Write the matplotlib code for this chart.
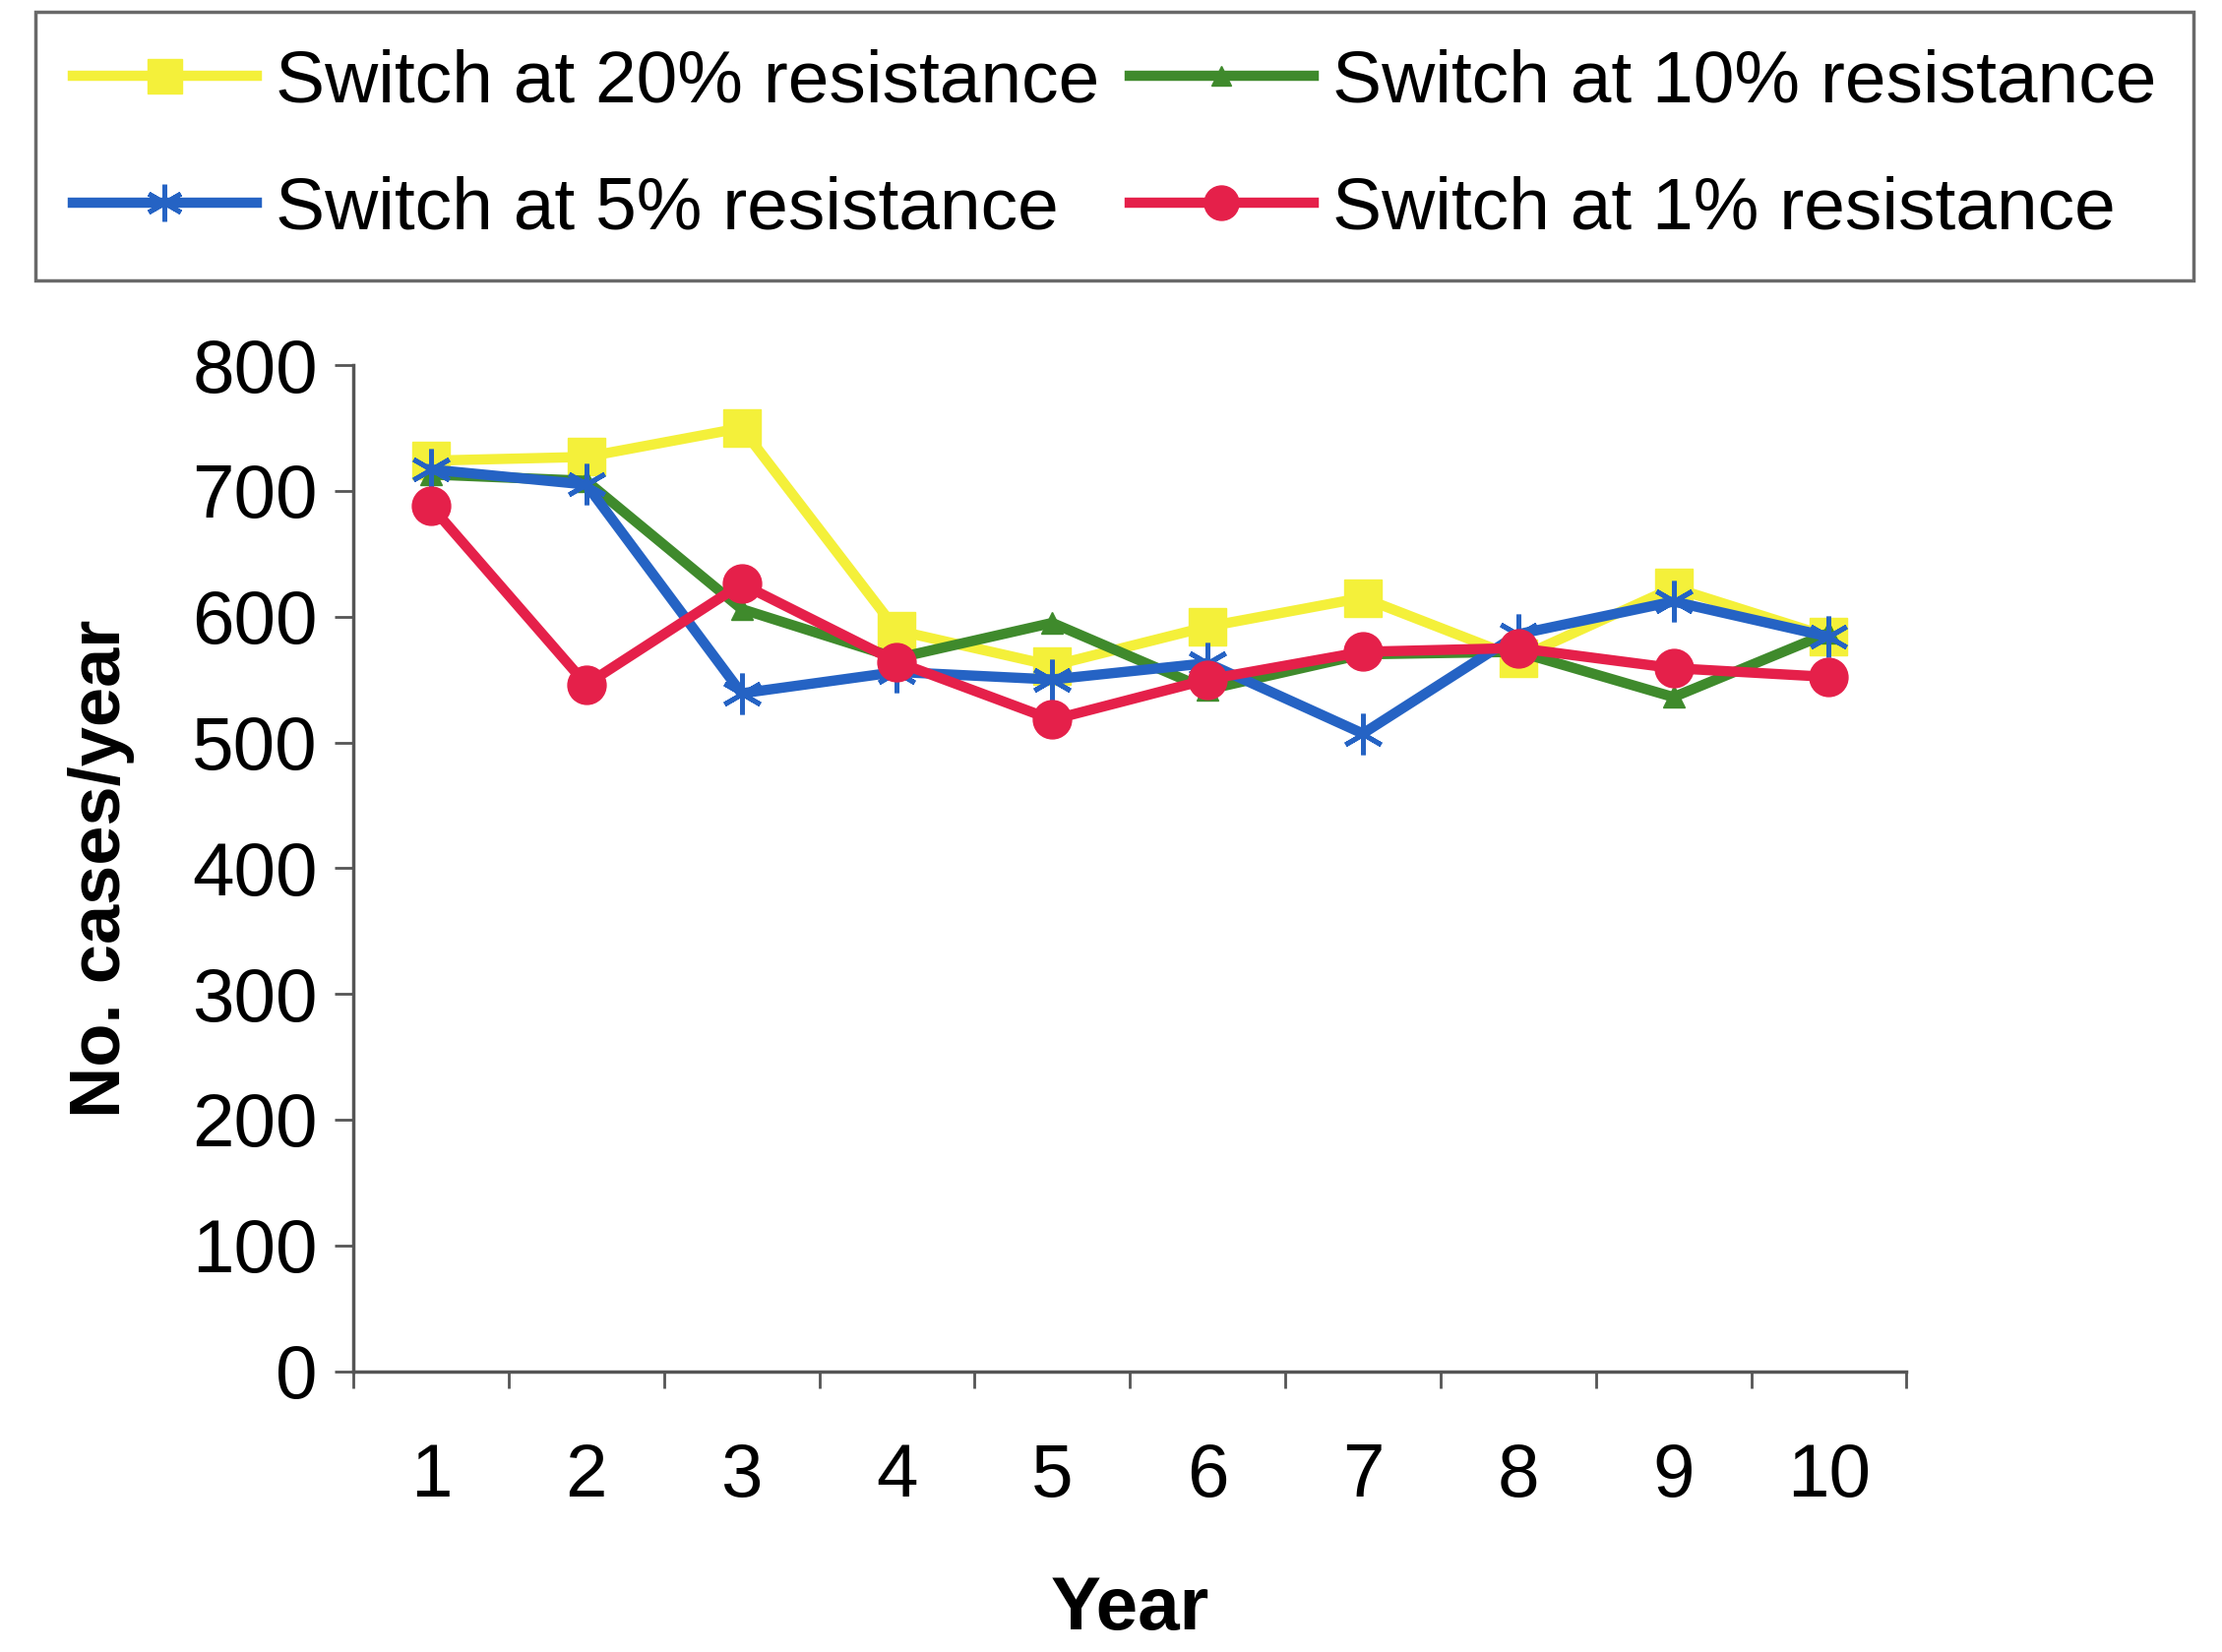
import numpy as np
import matplotlib.pyplot as plt
from matplotlib.ticker import FixedLocator

plt.rcParams["font.family"] = ["Liberation Sans", "DejaVu Sans"]

years = [1, 2, 3, 4, 5, 6, 7, 8, 9, 10]
switch_20 = [724, 727, 750, 589, 561, 592, 615, 567, 623, 584]
switch_10 = [713, 708, 606, 567, 595, 542, 570, 572, 536, 587]
switch_5 = [717, 705, 539, 556, 550, 563, 507, 586, 612, 584]
switch_1 = [688, 546, 626, 564, 518, 550, 572, 575, 559, 552]

labels = ["Switch at 20% resistance", "Switch at 10% resistance",
          "Switch at 5% resistance", "Switch at 1% resistance"]

fig = plt.figure(figsize=(22.58, 16.79), dpi=100)
ax = fig.add_axes([0.159, 0.170, 0.699, 0.609])

lw = 7.5
h20, = ax.plot(years, switch_20, color="#F4F03A", lw=lw, marker="s", ms=28,
               label=labels[0])
h10, = ax.plot(years, switch_10, color="#3F8A2C", lw=lw, marker="^", ms=16,
               label=labels[1])
h5, = ax.plot(years, switch_5, color="#2563C4", lw=lw, marker=(6, 2, 0), ms=30,
              mew=3.5, label=labels[2])
h1, = ax.plot(years, switch_1, color="#E5204A", lw=lw, marker="o", ms=28,
              label=labels[3])

ax.set_xlim(0.5, 10.5)
ax.set_ylim(0, 800)
ax.set_yticks(np.arange(0, 801, 100))
ax.set_xticks(years)
ax.xaxis.set_minor_locator(FixedLocator(np.arange(0.5, 10.6, 1)))
ax.tick_params(axis="x", which="major", length=0, pad=52, labelsize=55)
ax.tick_params(axis="x", which="minor", length=12, width=2, direction="out",
               color="#555555")
ax.tick_params(axis="y", length=14, width=2, direction="out", labelsize=55,
               color="#555555", pad=12)

for side in ["top", "right"]:
    ax.spines[side].set_visible(False)
for side in ["left", "bottom"]:
    ax.spines[side].set_linewidth(2.5)
    ax.spines[side].set_color("#555555")

ax.set_xlabel("Year", fontsize=55, fontweight="bold", labelpad=46)
ax.set_ylabel("No. cases/year", fontsize=52, fontweight="bold", labelpad=42)

# two-row legend box across the top, column-major order
leg = fig.legend(handles=[h20, h5, h10, h1], loc="upper left", ncol=2,
                 bbox_to_anchor=(0.016, 0.824, 0.971, 0.169), mode="expand",
                 fontsize=54, frameon=True, fancybox=False, edgecolor="#444444",
                 handlelength=2.5, handletextpad=0.25, columnspacing=0.5,
                 borderaxespad=0, labelspacing=0.8, borderpad=0.5)
leg.get_frame().set_linewidth(2.5)
for line in leg.get_lines():
    line.set_markersize(line.get_markersize() * 0.9)

fig.savefig("out.png", dpi=100)
